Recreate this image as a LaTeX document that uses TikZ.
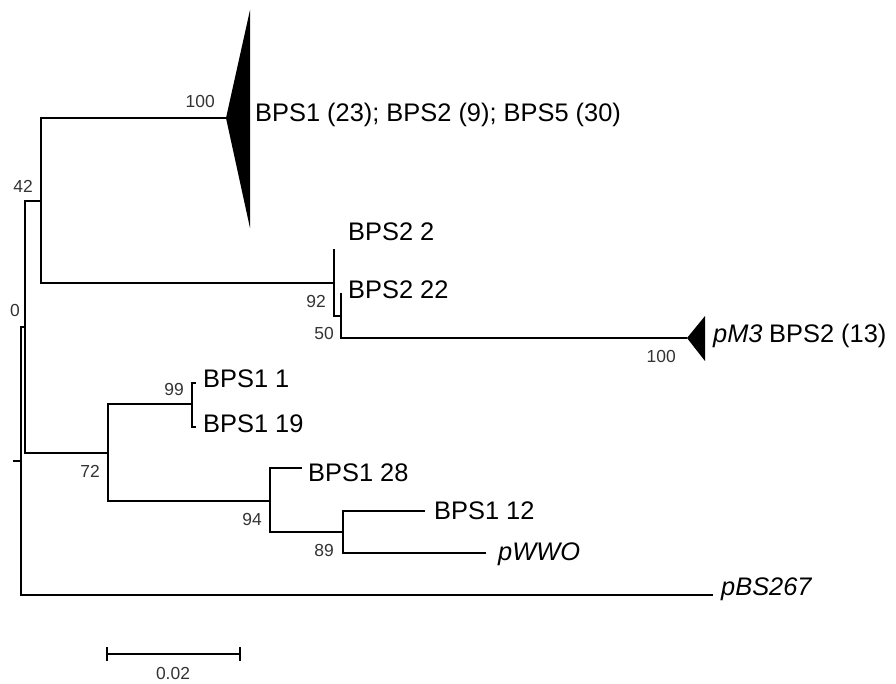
\documentclass[tikz,border=0pt]{standalone}
\usepackage{fontspec}
\setmainfont{Liberation Sans}
\definecolor{supgray}{HTML}{333333}
\begin{document}
\begin{tikzpicture}[x=1bp,y=-1bp,
  br/.style={line width=2bp, line join=miter},
  thinbr/.style={line width=1.3bp, line join=miter},
  leaf/.style={anchor=base west, inner sep=0pt, font=\fontsize{25.5}{30}\selectfont},
  sup/.style={anchor=base east, inner sep=0pt, font=\fontsize{17.5}{20}\selectfont, text=supgray},
]
\useasboundingbox (0,0) rectangle (896,684);

% tree nodes
\coordinate (rootstub) at (13,461);
\coordinate (root) at (21,461);
\coordinate (n0) at (25,327);
\coordinate (n42) at (41,201);
\coordinate (cA) at (226,118);
\coordinate (cAt) at (250,10);
\coordinate (cAb) at (250,228);
\coordinate (n92) at (334,283);
\coordinate (t2) at (334,249);
\coordinate (n50) at (341,316);
\coordinate (t22) at (341,293);
\coordinate (cB) at (687,338);
\coordinate (cBt) at (705,316);
\coordinate (cBb) at (705,361);
\coordinate (n72) at (108,453);
\coordinate (n99) at (192,404);
\coordinate (t1) at (196,383);
\coordinate (t19) at (196,427);
\coordinate (n94) at (270,501);
\coordinate (t28) at (302,468);
\coordinate (n89) at (343,532);
\coordinate (t12) at (425,511);
\coordinate (tW) at (486,553);
\coordinate (tBS) at (713,595);

% branches
\draw[br] (rootstub) -- (root);
\draw[br] (root) |- (n0);
\draw[br] (root) |- (tBS);
\draw[br] (n0) |- (n42);
\draw[br] (n0) |- (n72);
\draw[br] (n42) |- (cA);
\draw[br] (n42) |- (n92);
\draw[thinbr] (n92) |- (t2);
\draw[thinbr] (n92) |- (n50);
\draw[thinbr] (n50) |- (t22);
\draw[br] (n50) |- (cB);
\draw[br] (n72) |- (n99);
\draw[br] (n72) |- (n94);
\draw[thinbr] (n99) |- (t1);
\draw[thinbr] (n99) |- (t19);
\draw[br] (n94) |- (t28);
\draw[br] (n94) |- (n89);
\draw[br] (n89) |- (t12);
\draw[br] (n89) |- (tW);

% collapsed clades
\fill (cA) -- (cAt) -- (cAb) -- cycle;
\fill (cB) -- (cBt) -- (cBb) -- cycle;

% leaf labels
\node[leaf] (lA) at (255,122) {BPS1 (23); BPS2 (9); BPS5 (30)};
\node[leaf] (l2) at (348,240) {BPS2 2};
\node[leaf] (l22) at (348,298) {BPS2 22};
\node[leaf] (lM3) at (713,342) {\itshape pM3};
\node[leaf] (lB13) at (769,342) {BPS2 (13)};
\node[leaf] (l1) at (203,387) {BPS1 1};
\node[leaf] (l19) at (203,432) {BPS1 19};
\node[leaf] (l28) at (308,481) {BPS1 28};
\node[leaf] (l12) at (434,519) {BPS1 12};
\node[leaf] (lW) at (498,560) {\itshape pWWO};
\node[leaf] (lBS) at (721,595) {\itshape pBS267};

% support values
\node[sup] (s100a) at (215,108) {100};
\node[sup] (s42) at (33,192) {42};
\node[sup] (s0) at (20,316) {0};
\node[sup] (s92) at (326,307) {92};
\node[sup] (s50) at (334,339) {50};
\node[sup] (s100b) at (676,362) {100};
\node[sup] (s99) at (184,395) {99};
\node[sup] (s72) at (100,477) {72};
\node[sup] (s94) at (262,525) {94};
\node[sup] (s89) at (334,556) {89};

% scale bar
\coordinate (sbL) at (107,654);
\coordinate (sbR) at (240,654);
\draw[br] (sbL) -- (sbR);
\draw[br] ([yshift=-7bp]sbL) -- ([yshift=7bp]sbL);
\draw[br] ([yshift=-7bp]sbR) -- ([yshift=7bp]sbR);
\node[sup, anchor=base] (sbt) at (173,679) {0.02};
\end{tikzpicture}
\end{document}
